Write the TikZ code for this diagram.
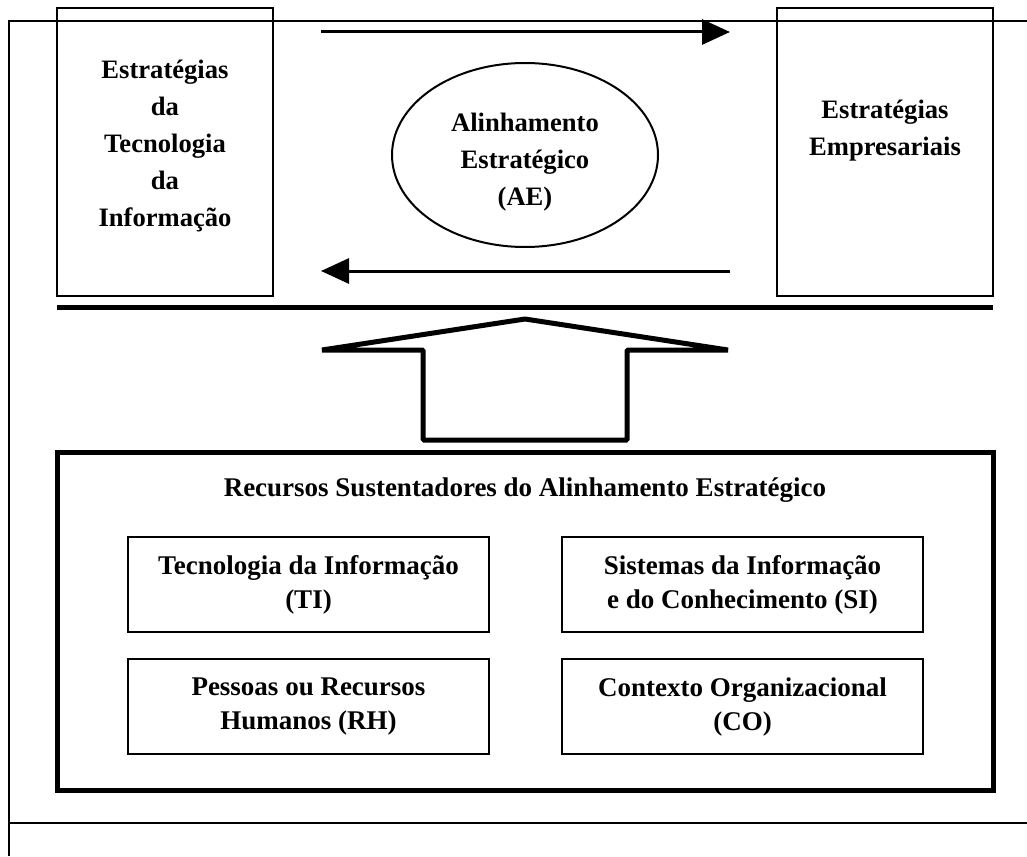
\documentclass[tikz,border=0pt]{standalone}
\usepackage{fontspec}
\setmainfont{Liberation Serif}
\usetikzlibrary{arrows.meta,positioning,shapes.geometric}

\begin{document}
\begin{tikzpicture}[x=0.5pt,y=-0.5pt,>={Triangle[length=14pt,width=12.5pt]},
  estr/.style={draw,line width=1.25pt,minimum width=108pt,minimum height=144pt,align=center,font=\fontsize{13.4}{18.5}\selectfont\bfseries},
  txt/.style={align=center,inner sep=0pt,font=\fontsize{13.3}{18.5}\selectfont\bfseries},
  rec/.style={draw,line width=1pt,minimum width=180.5pt,minimum height=47.5pt,align=center,inner sep=0pt,font=\fontsize{13.5}{17}\selectfont\bfseries}]
  \useasboundingbox (0,0) rectangle (1027,856);
  % moldura
  \draw[line width=0.75pt] (1027,21) -- (9,21) -- (9,856);
  \draw[line width=0.75pt] (9,823) -- (1027,823);

  \node[estr] (ti) at (165,152) {};
  \node[txt] (tit1) at (165,146) {Estratégias\\da\\Tecnologia\\da\\Informação};
  \node[estr] (emp) at (885,152) {};
  \node[txt] (empt) at (885,131) {Estratégias\\Empresariais};
  \node[ellipse,draw,line width=1pt,minimum width=133pt,minimum height=92pt] (ae) at (525,155) {};
  \node[txt] (aet) at (525,162) {Alinhamento\\Estratégico\\(AE)};

  \coordinate (a1) at (321,32);
  \coordinate (a2) at (730,32);
  \coordinate (b1) at (730,271);
  \coordinate (b2) at (321,271);
  \draw[->,line width=1.5pt] (a1) -- (a2);
  \draw[->,line width=1.5pt] (b1) -- (b2);

  \draw[line width=2.5pt] (57,307) -- (993,307);
  % seta larga
  \draw[line width=2.5pt,line join=bevel] (322,350) -- (525,319) -- (728,350) -- (627,350)
    -- (627,440) -- (423,440) -- (423,350) -- cycle;

  \node[draw,line width=2.5pt,minimum width=468pt,minimum height=169pt] (rsae) at (525,621) {};
  \node[txt,font=\fontsize{13.5}{17}\selectfont\bfseries] (tit) at (525,490) {Recursos Sustentadores do Alinhamento Estratégico};
  \node[rec] (tinf) at (308.5,584.5) {Tecnologia da Informação\\(TI)};
  \node[rec] (si) [right=35.5pt of tinf] {Sistemas da Informação\\e do Conhecimento (SI)};
  \node[rec] (rh) [below=12.5pt of tinf] {Pessoas ou Recursos\\Humanos (RH)};
  \node[rec] (co) [below=12.5pt of si] {Contexto Organizacional\\(CO)};
\end{tikzpicture}
\end{document}
